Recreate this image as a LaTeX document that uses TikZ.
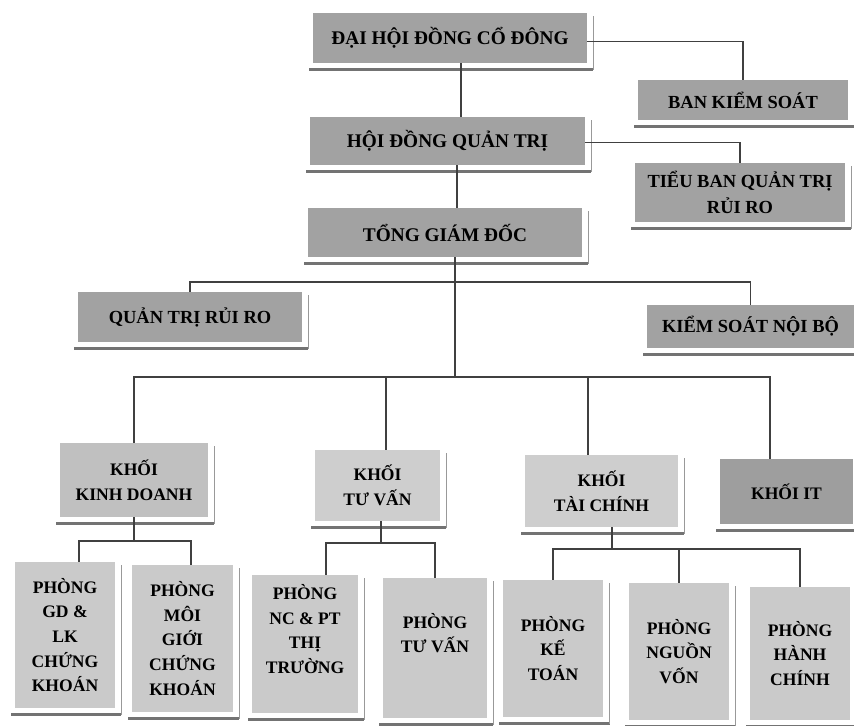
\documentclass[tikz,border=0pt]{standalone}
\usepackage{fontspec}
\setmainfont{Liberation Serif}
\usepackage{tikz}

\definecolor{topgray}{RGB}{162,162,162}
\definecolor{kdgray}{RGB}{192,192,192}
\definecolor{blockgray}{RGB}{206,206,206}
\definecolor{itgray}{RGB}{158,158,158}
\definecolor{deptgray}{RGB}{202,202,202}

\begin{document}
\begin{tikzpicture}[x=0.02cm,y=-0.02cm,
                    wh/.style 2 args={minimum width=#1*0.2mm,minimum height=#2*0.2mm},
                    top node/.style={fill=topgray,align=center,inner sep=2pt,font=\fontsize{11}{14.5}\selectfont\bfseries},
                    side node/.style={top node,font=\fontsize{10.5}{14.5}\selectfont\bfseries},
                    block node/.style={fill=blockgray,align=center,inner sep=2pt,font=\fontsize{10}{14}\selectfont\bfseries},
                    dept node/.style={fill=deptgray,align=center,inner sep=2pt,font=\fontsize{10}{14}\selectfont\bfseries},
                    link/.style={draw=black!75,line width=0.7pt},
                    shade line/.style={draw=black!55,line width=1.2pt},
                    rim line/.style={draw=black!40,line width=0.6pt}]

  \useasboundingbox (0,0) rectangle (854,725);

  \node[top node,wh={274}{50}] (dh) at (450,38) {ĐẠI HỘI ĐỒNG CỔ ĐÔNG};
  \node[side node,wh={210}{40}] (bks) at (743,100) {BAN KIỂM SOÁT};
  \node[top node,wh={275}{48}] (hd) at (447.5,141) {HỘI ĐỒNG QUẢN TRỊ};
  \node[side node,wh={210}{59}] (tb) at (740,192.5) {TIỂU BAN QUẢN TRỊ\\RỦI RO};
  \node[top node,wh={274}{49}] (tgd) at (445,232.5) {TỔNG GIÁM ĐỐC};
  \node[side node,wh={224}{50}] (qt) at (190,317) {QUẢN TRỊ RỦI RO};
  \node[side node,wh={207}{43}] (ks) at (750.5,326.5) {KIỂM SOÁT NỘI BỘ};

  \node[block node,fill=kdgray,wh={148}{74}] (kkd) at (134,480) {KHỐI\\KINH DOANH};
  \node[block node,wh={125}{71}] (ktv) at (377.5,485.5) {KHỐI\\TƯ VẤN};
  \node[block node,wh={153}{72}] (ktc) at (601.5,491) {KHỐI\\TÀI CHÍNH};
  \node[block node,fill=itgray,wh={133}{65}] (kit) at (786.5,491.5) {KHỐI IT};

  \node[dept node,wh={100}{146}] (pgd) at (65,635) {PHÒNG\\GD \&\\LK\\CHỨNG\\KHOÁN};
  \node[dept node,wh={101}{147}] (pmg) at (182.5,638.5) {PHÒNG\\MÔI\\GIỚI\\CHỨNG\\KHOÁN};
  \node[dept node,wh={106}{138}] (pnc) at (305,644) {PHÒNG\\NC \& PT\\THỊ\\TRƯỜNG\\[3pt]\mbox{}};
  \node[dept node,wh={104}{140}] (ptv) at (435,648) {PHÒNG\\TƯ VẤN\\[3pt]\mbox{}};
  \node[dept node,wh={100}{137}] (pkt) at (553,648.5) {PHÒNG\\KẾ\\TOÁN};
  \node[dept node,wh={100}{137}] (pnv) at (679,651.5) {PHÒNG\\NGUỒN\\VỐN};
  \node[dept node,wh={100}{133}] (phc) at (800,653.5) {PHÒNG\\HÀNH\\CHÍNH};

  \foreach \n in {dh,bks,hd,tb,tgd,qt,ks,kkd,ktv,ktc,kit,pgd,pmg,pnc,ptv,pkt,pnv,phc} {
    \draw[shade line] ([xshift=-2pt,yshift=-3.5pt]\n.south west) -- ([xshift=3.5pt,yshift=-3.5pt]\n.south east);
    \draw[rim line] ([xshift=3.5pt,yshift=-3.5pt]\n.south east) -- ([xshift=3.5pt,yshift=-2pt]\n.north east);
  }

  \coordinate (col1) at (461,0);
  \coordinate (col2) at (457,0);
  \coordinate (side) at (455,282);
  \coordinate (trunk) at (455,377);
  \coordinate (kd) at (133,541);
  \coordinate (tv) at (381,543);
  \coordinate (tc) at (612,549);

  \draw[link] (dh.south -| col1) -- (hd.north -| col1);
  \draw[link] (hd.south -| col2) -- (tgd.north -| col2);
  \draw[link] (tgd.south -| trunk) -- (trunk);
  \draw[link] ([yshift=-2pt]dh.east) -| (bks.north);
  \draw[link] ([yshift=-1pt]hd.east) -| (tb.north);
  \draw[link] (qt.north) |- (side) -| (ks.north);

  \draw[link] (kkd.north) |- (trunk) -| ([xshift=-0.33cm]kit.north);
  \draw[link] ([xshift=0.17cm]ktv.north) |- (trunk);
  \draw[link] ([xshift=-0.27cm]ktc.north) |- (trunk);

  \draw[link] (kkd.south) -- (kkd.south |- kd);
  \draw[link] ([xshift=0.28cm]pgd.north) |- (kd) -| ([xshift=0.17cm]pmg.north);
  \draw[link] (ktv.south -| tv) -- (tv);
  \draw[link] ([xshift=0.42cm]pnc.north) |- (tv) -| (ptv.north);
  \draw[link] (ktc.south -| tc) -- (tc);
  \draw[link] (pkt.north) |- (tc) -| (phc.north);
  \draw[link] (pnv.north) -- (pnv.north |- tc);

\end{tikzpicture}
\end{document}
